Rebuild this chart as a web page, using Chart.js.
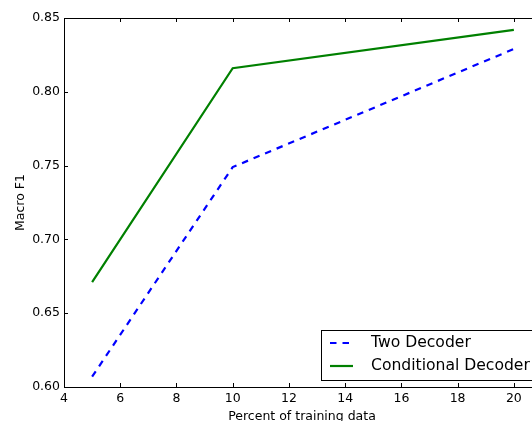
<!DOCTYPE html>
<html>
<head>
<meta charset="utf-8">
<script src="https://cdn.jsdelivr.net/npm/chart.js@4/dist/chart.umd.min.js"></script>
<style>
    html, body { margin: 0; padding: 0; background: #fff; overflow: hidden; }
    #wrap { position: relative; width: 560px; height: 421px; }
</style>
</head>
<body>
<div id="wrap"><canvas id="chart"></canvas></div>
<script>
const percents = [5, 10, 20];
const twoDecoder = [0.607, 0.749, 0.829];
const conditionalDecoder = [0.671, 0.816, 0.842];
const seriesNames = ["Two Decoder", "Conditional Decoder"];

const FONT = "'DejaVu Sans', sans-serif";

// matplotlib-style frame, inward ticks and in-axes legend
const framePlugin = {
    id: "frame",
    afterDraw(chart) {
        const { ctx, chartArea: a, scales } = chart;
        ctx.save();
        ctx.strokeStyle = "#000";
        ctx.lineWidth = 1;
        ctx.strokeRect(a.left + 0.5, a.top + 0.5, a.right - a.left, a.bottom - a.top);

        const len = 4;
        ctx.beginPath();
        scales.x.ticks.forEach((t) => {
            const px = Math.round(scales.x.getPixelForValue(t.value)) + 0.5;
            ctx.moveTo(px, a.bottom); ctx.lineTo(px, a.bottom - len);
            ctx.moveTo(px, a.top); ctx.lineTo(px, a.top + len);
        });
        scales.y.ticks.forEach((t) => {
            const py = Math.round(scales.y.getPixelForValue(t.value)) + 0.5;
            ctx.moveTo(a.left, py); ctx.lineTo(a.left + len, py);
            ctx.moveTo(a.right, py); ctx.lineTo(a.right - len, py);
        });
        ctx.stroke();

        // legend, lower right (its right side runs off the page, as in the reference)
        const bx = 321, by = a.bottom - 57, bw = 230, bh = 50;
        ctx.fillStyle = "#fff";
        ctx.fillRect(bx, by, bw, bh);
        ctx.strokeStyle = "#000";
        ctx.strokeRect(bx + 0.5, by + 0.5, bw, bh);
        ctx.font = "15.6px " + FONT;
        ctx.textBaseline = "middle";
        chart.data.datasets.forEach((ds, i) => {
            const y = by + 13 + i * 23;
            ctx.beginPath();
            ctx.strokeStyle = ds.borderColor;
            ctx.lineWidth = ds.borderWidth;
            ctx.setLineDash(ds.borderDash || []);
            ctx.moveTo(bx + 9, y); ctx.lineTo(bx + 32, y);
            ctx.stroke();
            ctx.setLineDash([]);
            ctx.fillStyle = "#000";
            ctx.fillText(ds.label, bx + 50, y);
        });
        ctx.restore();
    },
};

new Chart(document.getElementById("chart"), {
    type: "line",
    data: {
        datasets: [
            {
                label: seriesNames[0],
                data: percents.map((p, i) => ({ x: p, y: twoDecoder[i] })),
                borderColor: "#0000ff",
                borderWidth: 2.2,
                borderDash: [6.5, 6],
                pointRadius: 0,
                tension: 0,
                fill: false,
            },
            {
                label: seriesNames[1],
                data: percents.map((p, i) => ({ x: p, y: conditionalDecoder[i] })),
                borderColor: "#008000",
                borderWidth: 2.2,
                pointRadius: 0,
                tension: 0,
                fill: false,
            },
        ],
    },
    options: {
        responsive: true,
        maintainAspectRatio: false,
        animation: false,
        layout: { padding: { top: 18, right: 20, left: 0, bottom: 0 } },
        plugins: { legend: { display: false }, tooltip: { enabled: false } },
        scales: {
            x: {
                type: "linear",
                min: 4,
                max: 20.93,
                grid: { display: false, drawTicks: false },
                border: { display: false },
                ticks: {
                    stepSize: 2,
                    includeBounds: false,
                    padding: 4,
                    color: "#000",
                    font: { size: 12.5, family: FONT },
                    maxRotation: 0,
                },
                title: {
                    display: true,
                    text: "Percent of training data",
                    color: "#000",
                    font: { size: 12.5, family: FONT, lineHeight: 1 },
                    padding: { top: 0, bottom: -2 },
                },
                afterFit: (s) => { s.height = 34; },
            },
            y: {
                min: 0.6,
                max: 0.85,
                grid: { display: false, drawTicks: false },
                border: { display: false },
                ticks: {
                    stepSize: 0.05,
                    padding: 4,
                    color: "#000",
                    font: { size: 12.5, family: FONT },
                    callback: (v) => v.toFixed(2),
                },
                title: {
                    display: true,
                    text: "Macro F1",
                    color: "#000",
                    font: { size: 12.5, family: FONT, lineHeight: 1 },
                    padding: { top: 14, bottom: 0 },
                },
                afterFit: (s) => { s.width = 64; },
            },
        },
    },
    plugins: [framePlugin],
});
</script>
</body>
</html>
